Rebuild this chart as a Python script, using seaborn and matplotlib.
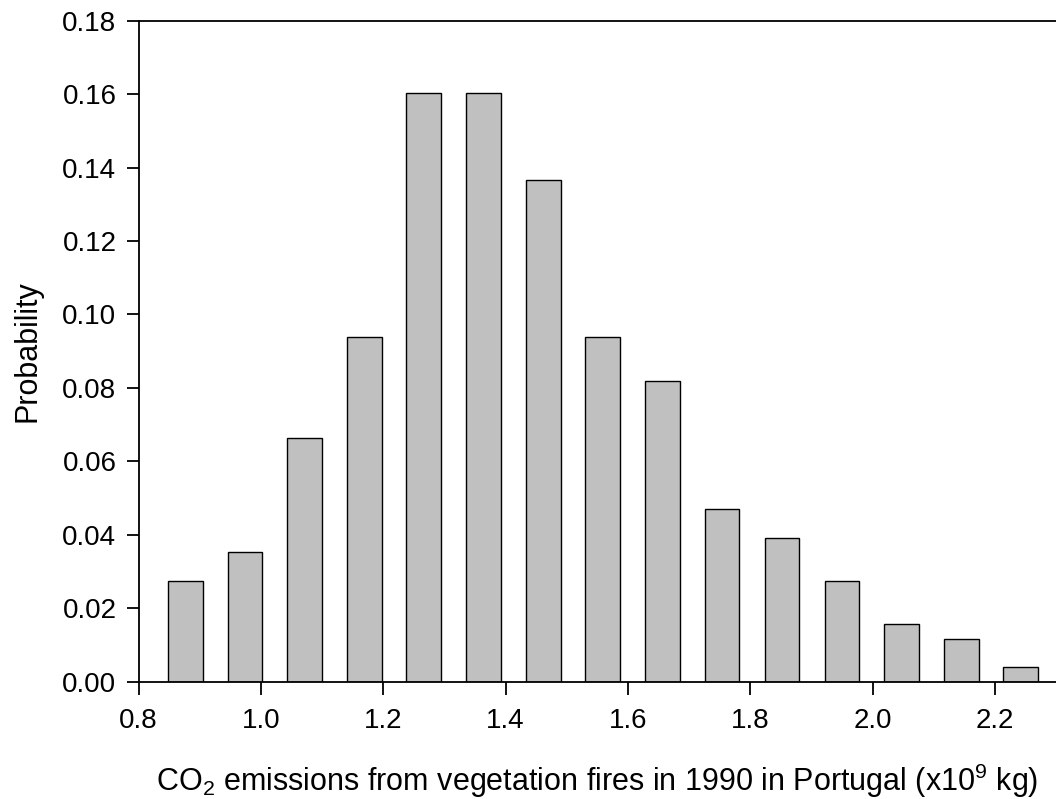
import numpy as np
import pandas as pd
import seaborn as sns
import matplotlib.pyplot as plt
from matplotlib.ticker import FormatStrFormatter

# bin centres (x10^9 kg) and probabilities
bin_centres = [0.876, 0.974, 1.071, 1.169, 1.266, 1.364, 1.462, 1.559,
               1.657, 1.754, 1.852, 1.950, 2.047, 2.145, 2.242]
probability = [0.0273, 0.0352, 0.0664, 0.0938, 0.1602, 0.1602, 0.1367, 0.0938,
               0.0820, 0.0469, 0.0391, 0.0273, 0.0156, 0.0117, 0.0039]

data = pd.DataFrame({"Emissions": bin_centres, "Probability": probability})

sns.set_style("ticks")
plt.rcParams["font.family"] = ["Liberation Sans", "DejaVu Sans"]
plt.rcParams["mathtext.fontset"] = "custom"
plt.rcParams["mathtext.rm"] = "Liberation Sans"
plt.rcParams["mathtext.it"] = "Liberation Sans:italic"

fig = plt.figure(figsize=(10.56, 7.99), dpi=100)
ax = fig.add_axes([0.1313, 0.1468, 0.8687, 0.8273])

sns.barplot(data=data, x="Emissions", y="Probability", native_scale=True,
            width=0.586, color="#c0c0c0", saturation=1,
            edgecolor="black", linewidth=1.0, ax=ax)

ax.set_xlim(0.8, 2.3)
ax.set_ylim(0, 0.18)
ax.set_xticks(np.arange(0.8, 2.21, 0.2))
ax.set_yticks(np.arange(0, 0.181, 0.02))
ax.xaxis.set_major_formatter(FormatStrFormatter("%.1f"))
ax.yaxis.set_major_formatter(FormatStrFormatter("%.2f"))

for side in ["left", "top", "bottom"]:
    ax.spines[side].set_linewidth(1.3)
    ax.spines[side].set_color("black")
ax.spines["right"].set_visible(False)

ax.tick_params(axis="both", direction="out", length=9, width=1.3,
               labelsize=20, colors="black", pad=7)
ax.tick_params(axis="x", pad=10)

ax.set_xlabel(r"CO$_2$ emissions from vegetation fires in 1990 in Portugal (x10$^9$ kg)",
              fontsize=22, labelpad=20, color="black")
ax.set_ylabel("Probability", fontsize=22, labelpad=14, color="black")

fig.savefig("out.png", dpi=100)
